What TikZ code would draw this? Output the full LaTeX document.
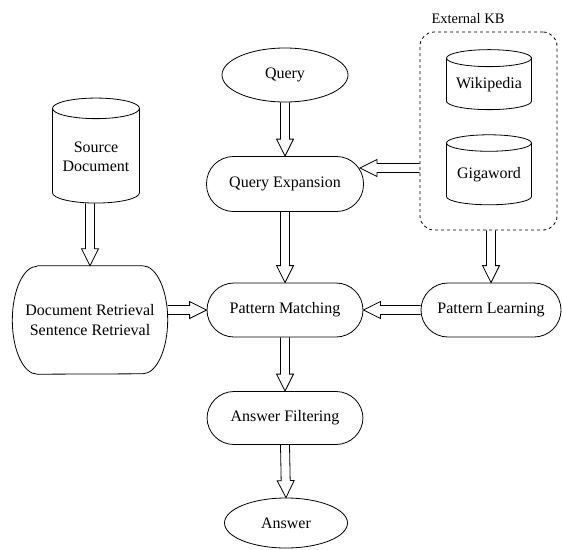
\documentclass[tikz,border=0pt]{standalone}
\usepackage{fontspec}
\setmainfont{Liberation Serif}
\usetikzlibrary{arrows.meta,positioning,calc,shapes.geometric}
\tikzset{
	pill/.style={
		draw,
		rounded corners=27pt,
		align=center,
		inner sep=2pt,
		line width=0.8pt,
		minimum width=156pt,
		minimum height=54pt
	},
	oval/.style={draw, ellipse, line width=0.8pt, inner sep=1pt},
	store/.style={draw, cylinder, shape border rotate=90, aspect=0.25, align=center, line width=0.8pt, inner sep=1pt},
	% hollow block arrow, drawn as an outline
	harr/.style={line width=0.8pt, line join=miter, to path={
		let \p1=(\tikztostart), \p2=(\tikztotarget),
		    \n1={veclen(\x2-\x1,\y2-\y1)}, \n2={atan2(\y2-\y1,\x2-\x1)} in
		([shift={(\p1)}, rotate=\n2] 0pt,4.5pt) -- ([shift={(\p1)}, rotate=\n2] \n1-17pt,4.5pt)
		-- ([shift={(\p1)}, rotate=\n2] \n1-17pt,8.5pt) -- (\tikztotarget)
		-- ([shift={(\p1)}, rotate=\n2] \n1-17pt,-8.5pt) -- ([shift={(\p1)}, rotate=\n2] \n1-17pt,-4.5pt)
		-- ([shift={(\p1)}, rotate=\n2] 0pt,-4.5pt)}}
}

\begin{document}
\begin{tikzpicture}[x=1pt, y=-1pt, font=\fontsize{16}{19.5}\selectfont]
		\useasboundingbox (0,0) rectangle (562,549);
		% main column
		\node[oval, minimum width=126pt, minimum height=54pt] (q) at (285,75) {Query};
		\node[pill, minimum width=157pt, minimum height=55pt] (qe) at (285,184) {Query Expansion};
		\node[pill] (pm) at (285,310) {Pattern Matching};
		\node[pill, minimum height=53pt] (af) at (285,418) {Answer Filtering};
		\node[oval, minimum width=123pt, minimum height=50pt] (ans) at (286,523) {Answer};
		% left side
		\node[store, aspect=0.3, minimum width=87pt, minimum height=105pt] (src) at (96,157) {Source\\Document};
		\node[align=center, minimum width=155pt, minimum height=108pt] (dr) at (90,320) {Document Retrieval\\Sentence Retrieval};
		\draw[line width=0.8pt] ($(dr.north west)+(25,0)$) -- ($(dr.north east)+(-25,0)$)
			arc[start angle=90, end angle=-90, x radius=25pt, y radius=54pt]
			-- ($(dr.south west)+(25,0)$)
			arc[start angle=270, end angle=90, x radius=25pt, y radius=54pt];
		% right side
		\node[store, minimum width=85pt, minimum height=60pt] (wiki) at (489,85) {Wikipedia};
		\node[store, minimum width=85pt, minimum height=70pt] (giga) at (489,175) {Gigaword};
		\node[draw, dashed, rounded corners=14pt, line width=0.8pt, minimum width=137pt, minimum height=198pt] (kb) at (488.5,131) {};
		\node[font=\fontsize{14.5}{17}\selectfont] (kbname) at (468,19) {External KB};
		\node[pill, minimum width=140pt] (pl) at (491,310) {Pattern Learning};
		\coordinate (qein) at ($(qe.east)+(-4,-16)$);
		% connectors
		\draw[harr] (q.south) to (qe.north);
		\draw[harr] (qe.south) to (pm.north);
		\draw[harr] (pm.south) to (af.north);
		\draw[harr] (af.south) to (ans.north);
		\draw[harr] (dr |- src.south) to (dr.north);
		\draw[harr] (dr.east |- pm) to (pm.west);
		\draw[harr] (pl.west) to (pm.east);
		\draw[harr] (kb.west |- qein) to (qein);
		\draw[harr] (kb.south -| pl) to (pl.north);
	\end{tikzpicture}
\end{document}
